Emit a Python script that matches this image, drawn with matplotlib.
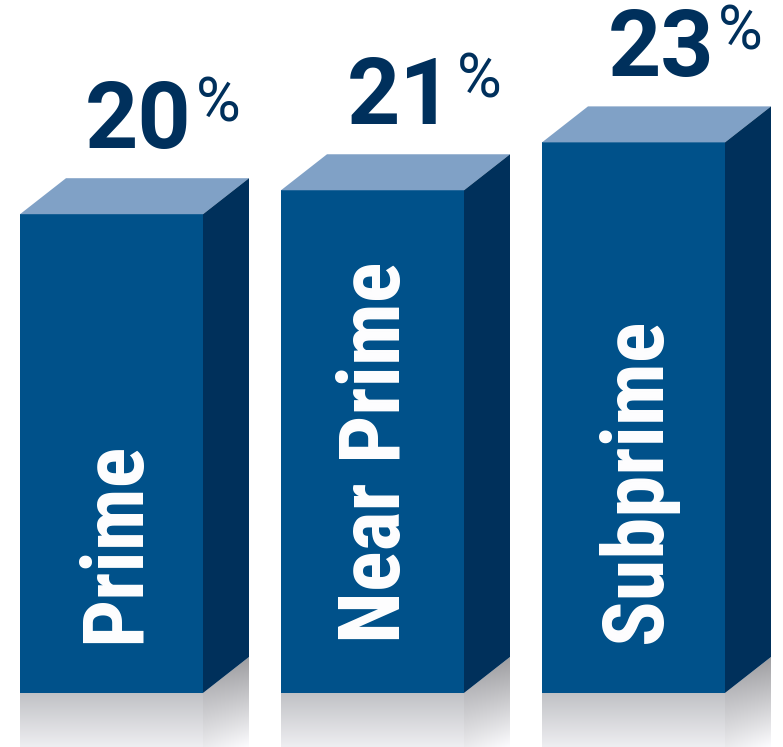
import numpy as np
import matplotlib
matplotlib.use("Agg")
import matplotlib.pyplot as plt
from matplotlib.patches import Polygon
from matplotlib import font_manager

# Data
categories = ["Prime", "Near Prime", "Subprime"]
values = [20, 21, 23]
value_labels = ["20", "21", "23"]

# Figure / geometry (pixels for horizontal layout, value units vertically)
W, H = 783, 747
BASE_PX = 693          # pixel row of the bar bottoms
SCALE = 23.94          # pixels per percentage point
DX_PX, DY_PX = 46, 36  # 3D depth offset
REFL_PX = 54           # reflection height

bar_left = [20, 281, 542]
bar_w = 183

FRONT = "#00518A"
SIDE = "#00305B"
TOP = "#80A1C6"
LABEL = "#00305C"

avail = {f.name for f in font_manager.fontManager.ttflist}
cond_font = next((f for f in ["Roboto Condensed", "Liberation Sans Narrow", "DejaVu Sans"]
                  if f in avail), "DejaVu Sans")
num_font = "Roboto" if "Roboto" in avail else "Liberation Sans"

fig = plt.figure(figsize=(W / 100, H / 100), dpi=100)
ax = fig.add_axes([0, 0, 1, 1])
ax.set_xlim(0, W)
ax.set_ylim(-(H - BASE_PX) / SCALE, BASE_PX / SCALE)
ax.axis("off")

DY = DY_PX / SCALE
R = REFL_PX / SCALE
px = 1 / SCALE

for x0, v, cat, lab in zip(bar_left, values, categories, value_labels):
    x1 = x0 + bar_w
    # front, top, side faces
    ax.add_patch(Polygon([(x0, 0), (x1, 0), (x1, v), (x0, v)],
                         closed=True, fc=FRONT, ec="none", zorder=3))
    ax.add_patch(Polygon([(x0, v), (x1, v), (x1 + DX_PX, v + DY), (x0 + DX_PX, v + DY)],
                         closed=True, fc=TOP, ec="none", zorder=3))
    ax.add_patch(Polygon([(x1, 0), (x1 + DX_PX, DY), (x1 + DX_PX, v + DY), (x1, v)],
                         closed=True, fc=SIDE, ec="none", zorder=3))

    # floor reflection of the front face: vertical grey gradient
    t = np.linspace(0, 1, 64)[:, None]
    top_c = np.array([192, 193, 197]) / 255
    bot_c = np.array([238, 238, 241]) / 255
    grad = top_c + (bot_c - top_c) * t
    img = np.repeat(grad[:, None, :], 2, axis=1).reshape(64, 2, 3)
    clip = Polygon([(x0, -R), (x1, -R), (x1, 0), (x0, 0)], closed=True,
                   fc="none", ec="none", transform=ax.transData)
    ax.add_patch(clip)
    im = ax.imshow(img, extent=(x0, x1, -R, 0), origin="upper",
                   aspect="auto", interpolation="bilinear", zorder=2)
    im.set_clip_path(clip)

    # reflection of the side face: darker at the top, fading downward
    nx, ny = 48, 96
    xs = np.linspace(0, 1, nx)
    ys = np.linspace(DY, -R, ny)
    XX, YY = np.meshgrid(xs, ys)
    edge = XX * DY
    tt = np.clip((edge - YY) / (edge + R), 0, 1)
    top_s = (186 - 28 * XX)[..., None] * np.array([1, 1, 1.02])
    bot_s = (234 + 18 * XX)[..., None] * np.array([1, 1, 1.01])
    simg = np.clip((top_s + (bot_s - top_s) * tt[..., None]) / 255, 0, 1)
    sclip = Polygon([(x1, 0), (x1 + DX_PX, DY), (x1 + DX_PX, -R), (x1, -R)],
                    closed=True, fc="none", ec="none", transform=ax.transData)
    ax.add_patch(sclip)
    sim = ax.imshow(simg, extent=(x1, x1 + DX_PX, -R, DY), origin="upper",
                    aspect="auto", interpolation="bilinear", zorder=2)
    sim.set_clip_path(sclip)

    # value label with raised percent sign
    base = v + DY + 30 * px
    ax.text(x0 + 172, base, lab, ha="right", va="baseline", fontsize=67,
            fontweight="bold", family=num_font, color=LABEL, zorder=5)
    ax.text(x0 + 176, base + 27 * px, "%", ha="left", va="baseline", fontsize=44,
            fontweight="normal", family=num_font, color=LABEL, zorder=5)

    # category name written up the front face
    ax.text(x0 + 119, 50 * px, cat, rotation=90, rotation_mode="anchor",
            ha="left", va="baseline", fontsize=61, fontweight="bold",
            family=cond_font, color="white", zorder=5)

fig.savefig("out.png", dpi=100, facecolor="white")
